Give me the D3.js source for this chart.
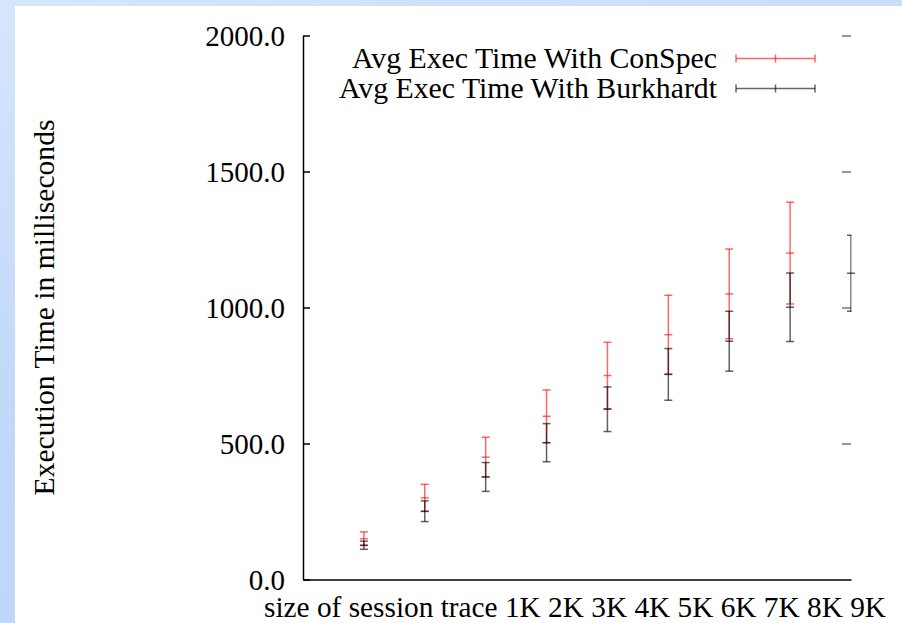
<!DOCTYPE html>
<html>
<head>
<meta charset="utf-8">
<script src="https://cdn.jsdelivr.net/npm/d3@7"></script>
<style>
  html, body { margin: 0; padding: 0; }
  body {
    width: 902px; height: 623px; overflow: hidden;
    background: linear-gradient(165deg, #d6e6fb 0%, #c2d9fa 45%, #b8d3f9 100%);
  }
  svg { display: block; }
  text { font-family: "Liberation Serif", "Times New Roman", serif; font-size: 29px; fill: #000; }
</style>
</head>
<body>
<div id="chart"></div>
<script>
// values
const sizes = [1, 2, 3, 4, 5, 6, 7, 8, 9];
const conspecAvg = [150, 300, 450, 600, 750, 900, 1050, 1200];
const conspecErr = [25, 50, 73, 97, 122, 145, 165, 187];
const burkAvg = [126, 251, 377, 503, 626, 754, 876, 1001, 1126];
const burkErr = [15, 38, 53, 70, 82, 95, 110, 126, 140];
const yTicks = [0, 500, 1000, 1500, 2000];
const seriesNames = ["Avg Exec Time With ConSpec", "Avg Exec Time With Burkhardt"];
const seriesColors = ["#ff0000", "#000000"];
const xLabel = "size of session trace 1K 2K 3K 4K 5K 6K 7K 8K 9K";
const yLabel = "Execution Time in milliseconds";

const width = 902, height = 623;
const plot = { left: 303, right: 851, top: 35.5, bottom: 579.5 };

const svg = d3.select("#chart").append("svg").attr("width", width).attr("height", height)
  .attr("font-family", "Liberation Serif");

// white page area
svg.append("rect").attr("x", 15).attr("y", 6).attr("width", width - 15).attr("height", height - 6).attr("fill", "#fff");

const x = d3.scaleLinear().domain([0, 9]).range([plot.left, plot.right]);
const y = d3.scaleLinear().domain([0, 2000]).range([plot.bottom, plot.top]);

svg.append("defs").append("clipPath").attr("id", "plotclip")
  .append("rect").attr("x", 0).attr("y", 0).attr("width", plot.right + 0.5).attr("height", height);

// left axis, ticks pointing inward
const yAxis = d3.axisLeft(y).tickValues(yTicks).tickFormat(d3.format(".1f"))
  .tickSizeInner(-7).tickSizeOuter(0).tickPadding(18);
const gy = svg.append("g").attr("transform", `translate(${plot.left},0)`).call(yAxis);
gy.attr("font-size", null).attr("font-family", null);
gy.select(".domain").attr("stroke", "#000").attr("stroke-width", 1.5);
gy.selectAll(".tick line").attr("stroke", "#000").attr("stroke-width", 1.5);
gy.selectAll(".tick text").attr("dy", "0.34em");

// mirrored ticks on the right, no border line
const yAxisR = d3.axisLeft(y).tickValues(yTicks.filter(d => d > 0)).tickFormat("").tickSize(9).tickSizeOuter(0);
const gyr = svg.append("g").attr("transform", `translate(${plot.right},0)`).call(yAxisR);
gyr.select(".domain").remove();
gyr.selectAll(".tick line").attr("stroke", "#777").attr("stroke-width", 1.5);

// bottom axis line
const xAxis = d3.axisBottom(x).tickValues([]).tickSizeOuter(0);
const gx = svg.append("g").attr("transform", `translate(0,${plot.bottom})`).call(xAxis);
gx.select(".domain").attr("stroke", "#000").attr("stroke-width", 1.5);

// axis titles
svg.append("text").attr("x", 575).attr("y", 616.5)
  .attr("text-anchor", "middle").attr("textLength", 622).attr("lengthAdjust", "spacingAndGlyphs")
  .text(xLabel);
svg.append("text").attr("transform", `translate(54,${(plot.top + plot.bottom) / 2}) rotate(-90)`)
  .attr("text-anchor", "middle").attr("textLength", 376).attr("lengthAdjust", "spacingAndGlyphs")
  .text(yLabel);

// error bars
const series = [
  { name: seriesNames[0], color: seriesColors[0], rows: conspecAvg.map((v, i) => ({ x: sizes[i], y: v, e: conspecErr[i] })) },
  { name: seriesNames[1], color: seriesColors[1], rows: burkAvg.map((v, i) => ({ x: sizes[i], y: v, e: burkErr[i] })) }
];
const legendWidths = [365, 378];
const cap = 4;

series.forEach((s, si) => {
  const g = svg.append("g").attr("stroke", s.color).attr("stroke-width", 1.5).attr("stroke-opacity", si === 0 ? 0.6 : 0.62);
  const bars = g.append("g").attr("clip-path", "url(#plotclip)");
  bars.selectAll("line.bar").data(s.rows).enter().append("line").attr("class", "bar")
    .attr("x1", d => x(d.x)).attr("x2", d => x(d.x))
    .attr("y1", d => y(d.y - d.e)).attr("y2", d => y(d.y + d.e));
  bars.selectAll("line.top").data(s.rows).enter().append("line").attr("class", "top")
    .attr("x1", d => x(d.x) - cap).attr("x2", d => x(d.x) + cap)
    .attr("y1", d => y(d.y + d.e)).attr("y2", d => y(d.y + d.e));
  bars.selectAll("line.low").data(s.rows).enter().append("line").attr("class", "low")
    .attr("x1", d => x(d.x) - cap).attr("x2", d => x(d.x) + cap)
    .attr("y1", d => y(d.y - d.e)).attr("y2", d => y(d.y - d.e));
  g.selectAll("line.mid").data(s.rows).enter().append("line").attr("class", "mid")
    .attr("x1", d => x(d.x) - cap).attr("x2", d => x(d.x) + cap)
    .attr("y1", d => y(d.y)).attr("y2", d => y(d.y));

  // legend entry
  const ly = 58.5 + si * 30;
  svg.append("text").attr("x", 717).attr("y", ly + 9.5).attr("text-anchor", "end")
    .attr("textLength", legendWidths[si]).attr("lengthAdjust", "spacingAndGlyphs").text(s.name);
  const lg = svg.append("g").attr("stroke", s.color).attr("stroke-width", 1.5).attr("stroke-opacity", 0.6);
  lg.append("line").attr("x1", 736).attr("x2", 815).attr("y1", ly).attr("y2", ly);
  [736, 775.5, 815].forEach(lx => {
    lg.append("line").attr("x1", lx).attr("x2", lx).attr("y1", ly - 4).attr("y2", ly + 4);
  });
});
</script>
</body>
</html>
